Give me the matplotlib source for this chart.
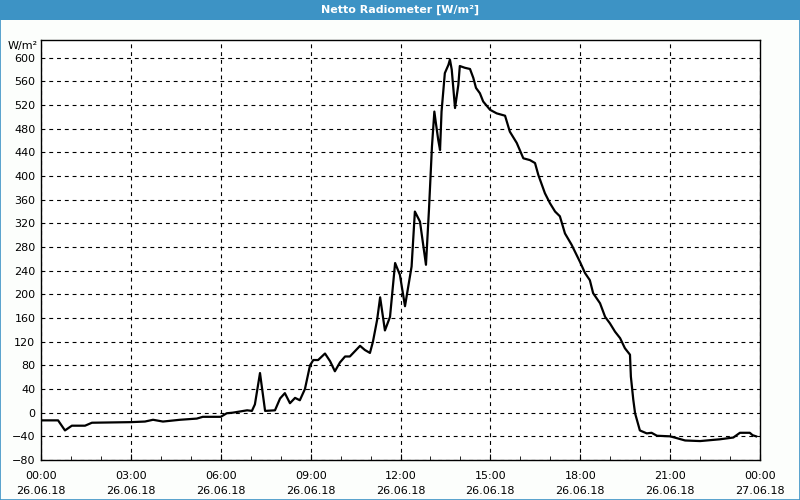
import matplotlib
matplotlib.use('Agg')
from matplotlib import pyplot as plt
from matplotlib.patches import Rectangle
from matplotlib.ticker import MultipleLocator

# hours since 26.06.18 00:00 and net radiation in W/m²
hours = [0.0, 0.57, 0.8, 1.03, 1.47, 1.7, 3.0, 3.47, 3.74, 4.07, 4.64, 5.2, 5.4,
         6.0, 6.2, 6.4, 6.88, 7.04, 7.14, 7.31, 7.48, 7.81, 7.98, 8.14, 8.31,
         8.48, 8.64, 8.81, 8.98, 9.09, 9.25, 9.48, 9.65, 9.81, 9.98, 10.15,
         10.31, 10.65, 10.81, 10.98, 11.08, 11.22, 11.32, 11.48, 11.65, 11.82,
         11.98, 12.15, 12.37, 12.48, 12.65, 12.85, 12.95, 13.05, 13.13, 13.18,
         13.26, 13.32, 13.37, 13.48, 13.6, 13.65, 13.71, 13.82, 13.93, 13.98,
         14.15, 14.32, 14.43, 14.52, 14.65, 14.76, 14.99, 15.21, 15.49, 15.65,
         15.88, 16.1, 16.32, 16.49, 16.6, 16.82, 16.99, 17.16, 17.32, 17.49,
         17.71, 17.99, 18.16, 18.32, 18.43, 18.66, 18.83, 18.99, 19.16, 19.33,
         19.49, 19.66, 19.69, 19.77, 19.83, 19.99, 20.22, 20.38, 20.56, 21.0,
         21.22, 21.5, 22.0, 22.66, 23.11, 23.33, 23.66, 23.75, 23.87]
values = [-13, -13, -30, -22, -22, -17, -16, -15, -12, -15, -12, -10, -7,
          -7, -1, 0, 4, 3, 14, 67, 3, 4, 24, 33, 16,
          25, 21, 40, 80, 89, 89, 100, 87, 70, 85, 95,
          95, 113, 106, 101, 120, 157, 195, 139, 162, 253,
          233, 180, 247, 340, 323, 250, 343, 450, 509, 490,
          461, 444, 509, 574, 588, 597, 580, 515, 554, 586,
          583, 581, 566, 549, 540, 526, 512, 506, 502, 475,
          456, 430, 427, 422, 402, 371, 354, 340, 332, 303,
          284, 255, 236, 224, 202, 185, 162, 151, 137, 126,
          109, 98, 61, 22, -1, -30, -35, -34, -39, -40,
          -43, -47, -48, -45, -42, -34, -34, -38, -40]

xtick_pos = [0, 3, 6, 9, 12, 15, 18, 21, 24]
xtick_labels = ['00:00\n26.06.18', '03:00\n26.06.18', '06:00\n26.06.18',
                '09:00\n26.06.18', '12:00\n26.06.18', '15:00\n26.06.18',
                '18:00\n26.06.18', '21:00\n26.06.18', '00:00\n27.06.18']

title = 'Netto Radiometer [W/m²]'
unit = 'W/m²'
bar_blue = '#3d93c5'

fig = plt.figure(figsize=(8, 5), dpi=100, facecolor='#fcfefc')

# title bar and thin frame round the window
fig.patches.append(Rectangle((0, 0.96), 1, 0.04, transform=fig.transFigure,
                             facecolor=bar_blue, edgecolor='none'))
fig.patches.append(Rectangle((0.0006, 0.001), 0.9988, 0.998, transform=fig.transFigure,
                             facecolor='none', edgecolor=bar_blue, lw=1.2))
fig.text(0.5, 0.98, title, color='white', fontweight='bold', fontsize=8,
         ha='center', va='center')

ax = fig.add_axes([0.05125, 0.08, 0.89875, 0.84])
ax.set_facecolor('white')
ax.plot(hours, values, color='black', lw=1.6)

ax.set_xlim(0, 24)
ax.set_ylim(-80, 630)
ax.set_xticks(xtick_pos)
ax.set_xticklabels(xtick_labels, fontsize=8, linespacing=1.6)
ax.xaxis.set_minor_locator(MultipleLocator(1))
ax.set_yticks(range(-80, 601, 40))
ax.tick_params(axis='y', length=0, pad=4, labelsize=8)
ax.tick_params(axis='x', which='major', direction='in', length=4, pad=8)
ax.tick_params(axis='x', which='minor', direction='in', length=3)

ax.grid(True, which='major', color='black', lw=0.8, linestyle=(0, (3.5, 3.5)))
for s in ax.spines.values():
    s.set_color('black')
    s.set_linewidth(1.0)

fig.text(0.0475, 1 - 46 / 500, unit, fontsize=8, ha='right', va='center')

fig.savefig('out.png', dpi=100, facecolor=fig.get_facecolor())
